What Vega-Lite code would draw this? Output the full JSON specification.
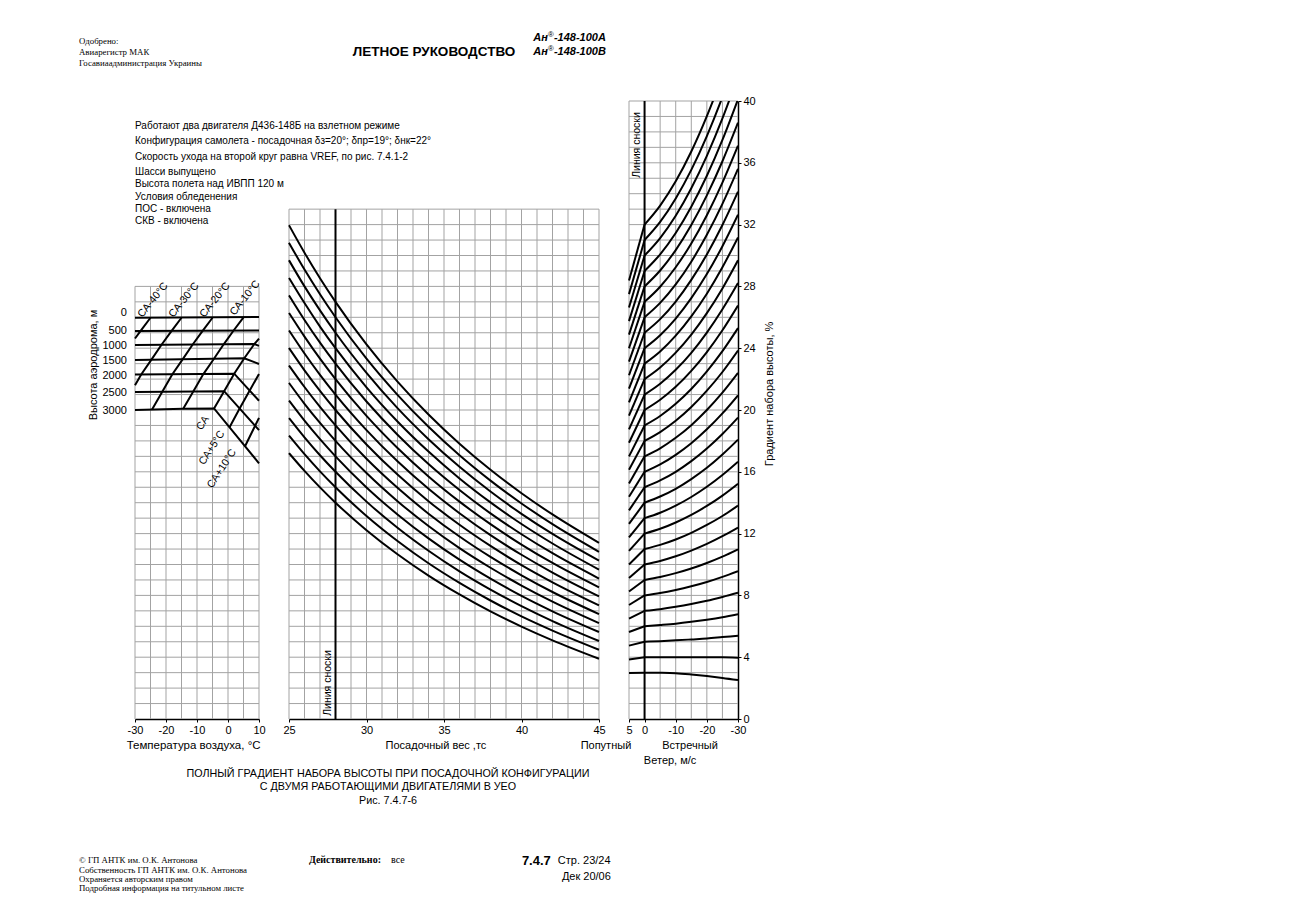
{
"$schema": "https://vega.github.io/schema/vega-lite/v6.json",
"background": "white",
"padding": {"left": 79, "top": 30, "right": 5, "bottom": 5},
"spacing": 30,
"bounds": "flush",
"config": {
  "view": {"stroke": null},
  "font": "Liberation Sans",
  "axis": {"domainColor": "black", "domainWidth": 1.5, "tickColor": "black", "tickSize": 3, "tickWidth": 1, "labelFont": "Liberation Sans", "labelFontSize": 11, "labelColor": "black", "labelPadding": 2, "labelFlush": false, "labelOverlap": false, "titleFont": "Liberation Sans", "titleFontSize": 11, "titleFontWeight": "normal", "titleColor": "black", "grid": false},
  "text": {"color": "black"}
},
"datasets": {
  "gLv": [{"t":-30,"g":0,"g2":28},{"t":-25,"g":0,"g2":28},{"t":-20,"g":0,"g2":28},{"t":-15,"g":0,"g2":28},{"t":-10,"g":0,"g2":28},{"t":-5,"g":0,"g2":28},{"t":0,"g":0,"g2":28},{"t":5,"g":0,"g2":28},{"t":10,"g":0,"g2":28}],
  "gLh": [{"g":1,"t":-30,"t2":10},{"g":2,"t":-30,"t2":10},{"g":3,"t":-30,"t2":10},{"g":4,"t":-30,"t2":10},{"g":5,"t":-30,"t2":10},{"g":6,"t":-30,"t2":10},{"g":7,"t":-30,"t2":10},{"g":8,"t":-30,"t2":10},{"g":9,"t":-30,"t2":10},{"g":10,"t":-30,"t2":10},{"g":11,"t":-30,"t2":10},{"g":12,"t":-30,"t2":10},{"g":13,"t":-30,"t2":10},{"g":14,"t":-30,"t2":10},{"g":15,"t":-30,"t2":10},{"g":16,"t":-30,"t2":10},{"g":17,"t":-30,"t2":10},{"g":18,"t":-30,"t2":10},{"g":19,"t":-30,"t2":10},{"g":20,"t":-30,"t2":10},{"g":21,"t":-30,"t2":10},{"g":22,"t":-30,"t2":10},{"g":23,"t":-30,"t2":10},{"g":24,"t":-30,"t2":10},{"g":25,"t":-30,"t2":10},{"g":26,"t":-30,"t2":10},{"g":27,"t":-30,"t2":10},{"g":28,"t":-30,"t2":10}],
  "gMv": [{"t":25,"g":0,"g2":33},{"t":26,"g":0,"g2":33},{"t":27,"g":0,"g2":33},{"t":29,"g":0,"g2":33},{"t":30,"g":0,"g2":33},{"t":31,"g":0,"g2":33},{"t":32,"g":0,"g2":33},{"t":33,"g":0,"g2":33},{"t":34,"g":0,"g2":33},{"t":35,"g":0,"g2":33},{"t":36,"g":0,"g2":33},{"t":37,"g":0,"g2":33},{"t":38,"g":0,"g2":33},{"t":39,"g":0,"g2":33},{"t":40,"g":0,"g2":33},{"t":41,"g":0,"g2":33},{"t":42,"g":0,"g2":33},{"t":43,"g":0,"g2":33},{"t":44,"g":0,"g2":33},{"t":45,"g":0,"g2":33}],
  "gMh": [{"g":1,"t":25,"t2":45},{"g":2,"t":25,"t2":45},{"g":3,"t":25,"t2":45},{"g":4,"t":25,"t2":45},{"g":5,"t":25,"t2":45},{"g":6,"t":25,"t2":45},{"g":7,"t":25,"t2":45},{"g":8,"t":25,"t2":45},{"g":9,"t":25,"t2":45},{"g":10,"t":25,"t2":45},{"g":11,"t":25,"t2":45},{"g":12,"t":25,"t2":45},{"g":13,"t":25,"t2":45},{"g":14,"t":25,"t2":45},{"g":15,"t":25,"t2":45},{"g":16,"t":25,"t2":45},{"g":17,"t":25,"t2":45},{"g":18,"t":25,"t2":45},{"g":19,"t":25,"t2":45},{"g":20,"t":25,"t2":45},{"g":21,"t":25,"t2":45},{"g":22,"t":25,"t2":45},{"g":23,"t":25,"t2":45},{"g":24,"t":25,"t2":45},{"g":25,"t":25,"t2":45},{"g":26,"t":25,"t2":45},{"g":27,"t":25,"t2":45},{"g":28,"t":25,"t2":45},{"g":29,"t":25,"t2":45},{"g":30,"t":25,"t2":45},{"g":31,"t":25,"t2":45},{"g":32,"t":25,"t2":45},{"g":33,"t":25,"t2":45}],
  "gRv": [{"t":5,"g":0,"g2":40},{"t":-5,"g":0,"g2":40},{"t":-10,"g":0,"g2":40},{"t":-15,"g":0,"g2":40},{"t":-20,"g":0,"g2":40},{"t":-25,"g":0,"g2":40}],
  "gRh": [{"g":1,"t":5,"t2":-30},{"g":2,"t":5,"t2":-30},{"g":3,"t":5,"t2":-30},{"g":4,"t":5,"t2":-30},{"g":5,"t":5,"t2":-30},{"g":6,"t":5,"t2":-30},{"g":7,"t":5,"t2":-30},{"g":8,"t":5,"t2":-30},{"g":9,"t":5,"t2":-30},{"g":10,"t":5,"t2":-30},{"g":11,"t":5,"t2":-30},{"g":12,"t":5,"t2":-30},{"g":13,"t":5,"t2":-30},{"g":14,"t":5,"t2":-30},{"g":15,"t":5,"t2":-30},{"g":16,"t":5,"t2":-30},{"g":17,"t":5,"t2":-30},{"g":18,"t":5,"t2":-30},{"g":19,"t":5,"t2":-30},{"g":20,"t":5,"t2":-30},{"g":21,"t":5,"t2":-30},{"g":22,"t":5,"t2":-30},{"g":23,"t":5,"t2":-30},{"g":24,"t":5,"t2":-30},{"g":25,"t":5,"t2":-30},{"g":26,"t":5,"t2":-30},{"g":27,"t":5,"t2":-30},{"g":28,"t":5,"t2":-30},{"g":29,"t":5,"t2":-30},{"g":30,"t":5,"t2":-30},{"g":31,"t":5,"t2":-30},{"g":32,"t":5,"t2":-30},{"g":33,"t":5,"t2":-30},{"g":34,"t":5,"t2":-30},{"g":35,"t":5,"t2":-30},{"g":36,"t":5,"t2":-30},{"g":37,"t":5,"t2":-30},{"g":38,"t":5,"t2":-30},{"g":39,"t":5,"t2":-30},{"g":40,"t":5,"t2":-30}],
  "L": [
    {"id":"h0","t":-30,"g":25.97},{"id":"h0","t":10,"g":26.02},
    {"id":"h500","t":-30,"g":25.11},{"id":"h500","t":10,"g":25.15},
    {"id":"h1000","t":-30,"g":24.21},{"id":"h1000","t":8.5,"g":24.27},{"id":"h1000","t":10,"g":24.15},
    {"id":"h1500","t":-30,"g":23.24},{"id":"h1500","t":5.25,"g":23.35},{"id":"h1500","t":10,"g":22.98},
    {"id":"h2000","t":-30,"g":22.30},{"id":"h2000","t":2,"g":22.35},{"id":"h2000","t":10,"g":20.6},
    {"id":"h2500","t":-30,"g":21.17},{"id":"h2500","t":-1.25,"g":21.22},{"id":"h2500","t":10,"g":18.7},
    {"id":"h3000","t":-30,"g":20.0},{"id":"h3000","t":-14.5,"g":20.08},{"id":"h3000","t":-4.5,"g":20.1},{"id":"h3000","t":10,"g":16.55},
    {"id":"isa","t":-4.5,"g":20.1},{"id":"isa","t":-1.25,"g":21.22},{"id":"isa","t":2,"g":22.35},{"id":"isa","t":5.25,"g":23.35},{"id":"isa","t":8.5,"g":24.27},{"id":"isa","t":10,"g":24.62},
    {"id":"isa5","t":0.5,"g":18.88},{"id":"isa5","t":3.75,"g":20.1},{"id":"isa5","t":7,"g":21.26},{"id":"isa5","t":10,"g":22.33},
    {"id":"isa10","t":5.5,"g":17.65},{"id":"isa10","t":8.75,"g":18.98},{"id":"isa10","t":10,"g":19.49},
    {"id":"m40","t":-30,"g":24.63},{"id":"m40","t":-28.25,"g":25.11},{"id":"m40","t":-25,"g":25.97},
    {"id":"m30","t":-30,"g":21.6},{"id":"m30","t":-28,"g":22.3},{"id":"m30","t":-24.75,"g":23.24},{"id":"m30","t":-21.5,"g":24.21},{"id":"m30","t":-18.25,"g":25.11},{"id":"m30","t":-15,"g":25.97},
    {"id":"m20","t":-24.5,"g":20.03},{"id":"m20","t":-21.25,"g":21.17},{"id":"m20","t":-18,"g":22.3},{"id":"m20","t":-14.75,"g":23.24},{"id":"m20","t":-11.5,"g":24.21},{"id":"m20","t":-8.25,"g":25.11},{"id":"m20","t":-5,"g":25.97},
    {"id":"m10","t":-14.5,"g":20.07},{"id":"m10","t":-11.25,"g":21.18},{"id":"m10","t":-8,"g":22.31},{"id":"m10","t":-4.75,"g":23.25},{"id":"m10","t":-1.5,"g":24.22},{"id":"m10","t":1.75,"g":25.13},{"id":"m10","t":5,"g":26.0}
  ],
  "M": [
    {"id":14,"t":25,"g":17.21},{"id":14,"t":26,"g":16.06},{"id":14,"t":27,"g":14.99},{"id":14,"t":28,"g":14},{"id":14,"t":30,"g":12.22},{"id":14,"t":32,"g":10.66},{"id":14,"t":34,"g":9.28},{"id":14,"t":36,"g":8.06},{"id":14,"t":38,"g":6.96},{"id":14,"t":40,"g":5.98},{"id":14,"t":42,"g":5.09},{"id":14,"t":45,"g":3.9},
    {"id":15,"t":25,"g":18.34},{"id":15,"t":26,"g":17.14},{"id":15,"t":27,"g":16.03},{"id":15,"t":28,"g":15},{"id":15,"t":30,"g":13.14},{"id":15,"t":32,"g":11.52},{"id":15,"t":34,"g":10.08},{"id":15,"t":36,"g":8.81},{"id":15,"t":38,"g":7.67},{"id":15,"t":40,"g":6.64},{"id":15,"t":42,"g":5.72},{"id":15,"t":45,"g":4.48},
    {"id":16,"t":25,"g":19.48},{"id":16,"t":26,"g":18.23},{"id":16,"t":27,"g":17.07},{"id":16,"t":28,"g":16},{"id":16,"t":30,"g":14.07},{"id":16,"t":32,"g":12.38},{"id":16,"t":34,"g":10.89},{"id":16,"t":36,"g":9.56},{"id":16,"t":38,"g":8.38},{"id":16,"t":40,"g":7.31},{"id":16,"t":42,"g":6.34},{"id":16,"t":45,"g":5.05},
    {"id":17,"t":25,"g":20.61},{"id":17,"t":26,"g":19.31},{"id":17,"t":27,"g":18.11},{"id":17,"t":28,"g":17},{"id":17,"t":30,"g":14.99},{"id":17,"t":32,"g":13.24},{"id":17,"t":34,"g":11.69},{"id":17,"t":36,"g":10.31},{"id":17,"t":38,"g":9.08},{"id":17,"t":40,"g":7.97},{"id":17,"t":42,"g":6.97},{"id":17,"t":45,"g":5.63},
    {"id":18,"t":25,"g":21.75},{"id":18,"t":26,"g":20.40},{"id":18,"t":27,"g":19.16},{"id":18,"t":28,"g":18},{"id":18,"t":30,"g":15.92},{"id":18,"t":32,"g":14.10},{"id":18,"t":34,"g":12.49},{"id":18,"t":36,"g":11.06},{"id":18,"t":38,"g":9.79},{"id":18,"t":40,"g":8.64},{"id":18,"t":42,"g":7.60},{"id":18,"t":45,"g":6.21},
    {"id":19,"t":25,"g":22.88},{"id":19,"t":26,"g":21.49},{"id":19,"t":27,"g":20.20},{"id":19,"t":28,"g":19},{"id":19,"t":30,"g":16.84},{"id":19,"t":32,"g":14.96},{"id":19,"t":34,"g":13.29},{"id":19,"t":36,"g":11.81},{"id":19,"t":38,"g":10.49},{"id":19,"t":40,"g":9.30},{"id":19,"t":42,"g":8.22},{"id":19,"t":45,"g":6.79},
    {"id":20,"t":25,"g":24.01},{"id":20,"t":26,"g":22.57},{"id":20,"t":27,"g":21.24},{"id":20,"t":28,"g":20},{"id":20,"t":30,"g":17.77},{"id":20,"t":32,"g":15.82},{"id":20,"t":34,"g":14.10},{"id":20,"t":36,"g":12.57},{"id":20,"t":38,"g":11.20},{"id":20,"t":40,"g":9.96},{"id":20,"t":42,"g":8.85},{"id":20,"t":45,"g":7.36},
    {"id":21,"t":25,"g":25.15},{"id":21,"t":26,"g":23.66},{"id":21,"t":27,"g":22.28},{"id":21,"t":28,"g":21},{"id":21,"t":30,"g":18.70},{"id":21,"t":32,"g":16.68},{"id":21,"t":34,"g":14.90},{"id":21,"t":36,"g":13.32},{"id":21,"t":38,"g":11.90},{"id":21,"t":40,"g":10.63},{"id":21,"t":42,"g":9.48},{"id":21,"t":45,"g":7.94},
    {"id":22,"t":25,"g":26.28},{"id":22,"t":26,"g":24.75},{"id":22,"t":27,"g":23.32},{"id":22,"t":28,"g":22},{"id":22,"t":30,"g":19.62},{"id":22,"t":32,"g":17.54},{"id":22,"t":34,"g":15.70},{"id":22,"t":36,"g":14.07},{"id":22,"t":38,"g":12.61},{"id":22,"t":40,"g":11.29},{"id":22,"t":42,"g":10.10},{"id":22,"t":45,"g":8.52},
    {"id":23,"t":25,"g":27.42},{"id":23,"t":26,"g":25.83},{"id":23,"t":27,"g":24.36},{"id":23,"t":28,"g":23},{"id":23,"t":30,"g":20.55},{"id":23,"t":32,"g":18.40},{"id":23,"t":34,"g":16.50},{"id":23,"t":36,"g":14.82},{"id":23,"t":38,"g":13.31},{"id":23,"t":40,"g":11.96},{"id":23,"t":42,"g":10.73},{"id":23,"t":45,"g":9.09},
    {"id":24,"t":25,"g":28.55},{"id":24,"t":26,"g":26.92},{"id":24,"t":27,"g":25.40},{"id":24,"t":28,"g":24},{"id":24,"t":30,"g":21.47},{"id":24,"t":32,"g":19.26},{"id":24,"t":34,"g":17.31},{"id":24,"t":36,"g":15.57},{"id":24,"t":38,"g":14.02},{"id":24,"t":40,"g":12.62},{"id":24,"t":42,"g":11.36},{"id":24,"t":45,"g":9.67},
    {"id":25,"t":25,"g":29.69},{"id":25,"t":26,"g":28.00},{"id":25,"t":27,"g":26.45},{"id":25,"t":28,"g":25},{"id":25,"t":30,"g":22.40},{"id":25,"t":32,"g":20.12},{"id":25,"t":34,"g":18.11},{"id":25,"t":36,"g":16.32},{"id":25,"t":38,"g":14.72},{"id":25,"t":40,"g":13.28},{"id":25,"t":42,"g":11.98},{"id":25,"t":45,"g":10.25},
    {"id":26,"t":25,"g":30.82},{"id":26,"t":26,"g":29.09},{"id":26,"t":27,"g":27.49},{"id":26,"t":28,"g":26},{"id":26,"t":30,"g":23.32},{"id":26,"t":32,"g":20.98},{"id":26,"t":34,"g":18.91},{"id":26,"t":36,"g":17.07},{"id":26,"t":38,"g":15.43},{"id":26,"t":40,"g":13.95},{"id":26,"t":42,"g":12.61},{"id":26,"t":45,"g":10.82},
    {"id":27,"t":25,"g":31.96},{"id":27,"t":26,"g":30.18},{"id":27,"t":27,"g":28.53},{"id":27,"t":28,"g":27},{"id":27,"t":30,"g":24.25},{"id":27,"t":32,"g":21.84},{"id":27,"t":34,"g":19.71},{"id":27,"t":36,"g":17.82},{"id":27,"t":38,"g":16.13},{"id":27,"t":40,"g":14.61},{"id":27,"t":42,"g":13.24},{"id":27,"t":45,"g":11.40}
  ],
  "R": [
    {"id":3,"t":5,"g":2.98},{"id":3,"t":0,"g":3},{"id":3,"t":-5,"g":2.99},{"id":3,"t":-10,"g":2.96},{"id":3,"t":-15,"g":2.88},{"id":3,"t":-20,"g":2.78},{"id":3,"t":-25,"g":2.66},{"id":3,"t":-30,"g":2.52},
    {"id":4,"t":5,"g":3.85},{"id":4,"t":0,"g":4},{"id":4,"t":-5,"g":4},{"id":4,"t":-10,"g":4},{"id":4,"t":-15,"g":4},{"id":4,"t":-20,"g":4},{"id":4,"t":-25,"g":3.99},{"id":4,"t":-30,"g":3.97},
    {"id":5,"t":5,"g":4.75},{"id":5,"t":0,"g":5},{"id":5,"t":-5,"g":5.04},{"id":5,"t":-10,"g":5.09},{"id":5,"t":-15,"g":5.15},{"id":5,"t":-20,"g":5.21},{"id":5,"t":-25,"g":5.3},{"id":5,"t":-30,"g":5.39},
    {"id":6,"t":5,"g":5.63},{"id":6,"t":0,"g":6},{"id":6,"t":-5,"g":6.08},{"id":6,"t":-10,"g":6.17},{"id":6,"t":-15,"g":6.29},{"id":6,"t":-20,"g":6.43},{"id":6,"t":-25,"g":6.59},{"id":6,"t":-30,"g":6.78},
    {"id":7,"t":5,"g":6.5},{"id":7,"t":0,"g":7},{"id":7,"t":-5,"g":7.11},{"id":7,"t":-10,"g":7.26},{"id":7,"t":-15,"g":7.44},{"id":7,"t":-20,"g":7.65},{"id":7,"t":-25,"g":7.9},{"id":7,"t":-30,"g":8.17},
    {"id":8,"t":5,"g":7.38},{"id":8,"t":0,"g":8},{"id":8,"t":-5,"g":8.15},{"id":8,"t":-10,"g":8.35},{"id":8,"t":-15,"g":8.59},{"id":8,"t":-20,"g":8.87},{"id":8,"t":-25,"g":9.2},{"id":8,"t":-30,"g":9.57},
    {"id":9,"t":5,"g":8.25},{"id":9,"t":0,"g":9},{"id":9,"t":-5,"g":9.19},{"id":9,"t":-10,"g":9.44},{"id":9,"t":-15,"g":9.74},{"id":9,"t":-20,"g":10.1},{"id":9,"t":-25,"g":10.51},{"id":9,"t":-30,"g":10.98},
    {"id":10,"t":5,"g":9.13},{"id":10,"t":0,"g":10},{"id":10,"t":-5,"g":10.23},{"id":10,"t":-10,"g":10.53},{"id":10,"t":-15,"g":10.9},{"id":10,"t":-20,"g":11.33},{"id":10,"t":-25,"g":11.83},{"id":10,"t":-30,"g":12.39},
    {"id":11,"t":5,"g":10.0},{"id":11,"t":0,"g":11},{"id":11,"t":-5,"g":11.27},{"id":11,"t":-10,"g":11.62},{"id":11,"t":-15,"g":12.05},{"id":11,"t":-20,"g":12.56},{"id":11,"t":-25,"g":13.14},{"id":11,"t":-30,"g":13.81},
    {"id":12,"t":5,"g":10.88},{"id":12,"t":0,"g":12},{"id":12,"t":-5,"g":12.31},{"id":12,"t":-10,"g":12.72},{"id":12,"t":-15,"g":13.21},{"id":12,"t":-20,"g":13.79},{"id":12,"t":-25,"g":14.46},{"id":12,"t":-30,"g":15.23},
    {"id":13,"t":5,"g":11.75},{"id":13,"t":0,"g":13},{"id":13,"t":-5,"g":13.35},{"id":13,"t":-10,"g":13.81},{"id":13,"t":-15,"g":14.37},{"id":13,"t":-20,"g":15.03},{"id":13,"t":-25,"g":15.79},{"id":13,"t":-30,"g":16.65},
    {"id":14,"t":5,"g":12.63},{"id":14,"t":0,"g":14},{"id":14,"t":-5,"g":14.4},{"id":14,"t":-10,"g":14.9},{"id":14,"t":-15,"g":15.53},{"id":14,"t":-20,"g":16.26},{"id":14,"t":-25,"g":17.12},{"id":14,"t":-30,"g":18.08},
    {"id":15,"t":5,"g":13.5},{"id":15,"t":0,"g":15},{"id":15,"t":-5,"g":15.44},{"id":15,"t":-10,"g":16.0},{"id":15,"t":-15,"g":16.69},{"id":15,"t":-20,"g":17.51},{"id":15,"t":-25,"g":18.45},{"id":15,"t":-30,"g":19.51},
    {"id":16,"t":5,"g":14.38},{"id":16,"t":0,"g":16},{"id":16,"t":-5,"g":16.48},{"id":16,"t":-10,"g":17.1},{"id":16,"t":-15,"g":17.85},{"id":16,"t":-20,"g":18.75},{"id":16,"t":-25,"g":19.78},{"id":16,"t":-30,"g":20.95},
    {"id":17,"t":5,"g":15.25},{"id":17,"t":0,"g":17},{"id":17,"t":-5,"g":17.52},{"id":17,"t":-10,"g":18.2},{"id":17,"t":-15,"g":19.02},{"id":17,"t":-20,"g":20.0},{"id":17,"t":-25,"g":21.12},{"id":17,"t":-30,"g":22.4},
    {"id":18,"t":5,"g":16.13},{"id":18,"t":0,"g":18},{"id":18,"t":-5,"g":18.57},{"id":18,"t":-10,"g":19.3},{"id":18,"t":-15,"g":20.19},{"id":18,"t":-20,"g":21.25},{"id":18,"t":-25,"g":22.46},{"id":18,"t":-30,"g":23.85},
    {"id":19,"t":5,"g":17.0},{"id":19,"t":0,"g":19},{"id":19,"t":-5,"g":19.61},{"id":19,"t":-10,"g":20.4},{"id":19,"t":-15,"g":21.36},{"id":19,"t":-20,"g":22.5},{"id":19,"t":-25,"g":23.81},{"id":19,"t":-30,"g":25.3},
    {"id":20,"t":5,"g":17.88},{"id":20,"t":0,"g":20},{"id":20,"t":-5,"g":20.66},{"id":20,"t":-10,"g":21.5},{"id":20,"t":-15,"g":22.53},{"id":20,"t":-20,"g":23.75},{"id":20,"t":-25,"g":25.16},{"id":20,"t":-30,"g":26.76},
    {"id":21,"t":5,"g":18.75},{"id":21,"t":0,"g":21},{"id":21,"t":-5,"g":21.7},{"id":21,"t":-10,"g":22.6},{"id":21,"t":-15,"g":23.7},{"id":21,"t":-20,"g":25.01},{"id":21,"t":-25,"g":26.52},{"id":21,"t":-30,"g":28.22},
    {"id":22,"t":5,"g":19.63},{"id":22,"t":0,"g":22},{"id":22,"t":-5,"g":22.75},{"id":22,"t":-10,"g":23.71},{"id":22,"t":-15,"g":24.88},{"id":22,"t":-20,"g":26.27},{"id":22,"t":-25,"g":27.87},{"id":22,"t":-30,"g":29.69},
    {"id":23,"t":5,"g":20.5},{"id":23,"t":0,"g":23},{"id":23,"t":-5,"g":23.79},{"id":23,"t":-10,"g":24.81},{"id":23,"t":-15,"g":26.06},{"id":23,"t":-20,"g":27.53},{"id":23,"t":-25,"g":29.24},{"id":23,"t":-30,"g":31.17},
    {"id":24,"t":5,"g":21.38},{"id":24,"t":0,"g":24},{"id":24,"t":-5,"g":24.84},{"id":24,"t":-10,"g":25.92},{"id":24,"t":-15,"g":27.24},{"id":24,"t":-20,"g":28.8},{"id":24,"t":-25,"g":30.6},{"id":24,"t":-30,"g":32.64},
    {"id":25,"t":5,"g":22.25},{"id":25,"t":0,"g":25},{"id":25,"t":-5,"g":25.88},{"id":25,"t":-10,"g":27.02},{"id":25,"t":-15,"g":28.42},{"id":25,"t":-20,"g":30.07},{"id":25,"t":-25,"g":31.97},{"id":25,"t":-30,"g":34.13},
    {"id":26,"t":5,"g":23.13},{"id":26,"t":0,"g":26},{"id":26,"t":-5,"g":26.93},{"id":26,"t":-10,"g":28.13},{"id":26,"t":-15,"g":29.6},{"id":26,"t":-20,"g":31.34},{"id":26,"t":-25,"g":33.34},{"id":26,"t":-30,"g":35.61},
    {"id":27,"t":5,"g":24.0},{"id":27,"t":0,"g":27},{"id":27,"t":-5,"g":27.98},{"id":27,"t":-10,"g":29.24},{"id":27,"t":-15,"g":30.78},{"id":27,"t":-20,"g":32.61},{"id":27,"t":-25,"g":34.72},{"id":27,"t":-30,"g":37.11},
    {"id":28,"t":5,"g":24.88},{"id":28,"t":0,"g":28},{"id":28,"t":-5,"g":29.03},{"id":28,"t":-10,"g":30.35},{"id":28,"t":-15,"g":31.97},{"id":28,"t":-20,"g":33.89},{"id":28,"t":-25,"g":36.1},{"id":28,"t":-30,"g":38.6},
    {"id":29,"t":5,"g":25.75},{"id":29,"t":0,"g":29},{"id":29,"t":-5,"g":30.08},{"id":29,"t":-10,"g":31.46},{"id":29,"t":-15,"g":33.16},{"id":29,"t":-20,"g":35.16},{"id":29,"t":-25,"g":37.48},{"id":29,"t":-30,"g":40.11},
    {"id":30,"t":5,"g":26.63},{"id":30,"t":0,"g":30},{"id":30,"t":-5,"g":31.13},{"id":30,"t":-10,"g":32.57},{"id":30,"t":-15,"g":34.35},{"id":30,"t":-20,"g":36.45},{"id":30,"t":-25,"g":38.87},{"id":30,"t":-30,"g":41.61},
    {"id":31,"t":5,"g":27.5},{"id":31,"t":0,"g":31},{"id":31,"t":-5,"g":32.17},{"id":31,"t":-10,"g":33.69},{"id":31,"t":-15,"g":35.54},{"id":31,"t":-20,"g":37.73},{"id":31,"t":-25,"g":40.26},{"id":31,"t":-30,"g":43.13},
    {"id":32,"t":5,"g":28.38},{"id":32,"t":0,"g":32},{"id":32,"t":-5,"g":33.23},{"id":32,"t":-10,"g":34.8},{"id":32,"t":-15,"g":36.73},{"id":32,"t":-20,"g":39.02},{"id":32,"t":-25,"g":41.65},{"id":32,"t":-30,"g":44.64}
  ]
},
"hconcat": [
  {
    "width": 124, "height": 618,
    "encoding": {
      "x": {"field": "t", "type": "quantitative", "scale": {"domain": [-30, 10], "nice": false, "zero": false}, "axis": {"values": [-30, -20, -10, 0, 10], "labelExpr": "'' + datum.value", "title": null}},
      "y": {"field": "g", "type": "quantitative", "scale": {"domain": [0, 40], "nice": false, "zero": false}, "axis": null}
    },
    "layer": [
      {"data": {"name": "gLv"}, "mark": {"type": "rule", "color": "#a3a3a3", "strokeWidth": 1}, "encoding": {"y2": {"field": "g2"}}},
      {"data": {"name": "gLh"}, "mark": {"type": "rule", "color": "#a3a3a3", "strokeWidth": 1}, "encoding": {"x2": {"field": "t2"}}},
      {"data": {"name": "L"}, "mark": {"type": "line", "color": "black", "strokeWidth": 2}, "encoding": {"detail": {"field": "id"}}},
      {"data": {"values": [{"t": -32.6, "g": 26.25, "s": "0"}, {"t": -32.6, "g": 25.13, "s": "500"}, {"t": -32.6, "g": 24.14, "s": "1000"}, {"t": -32.6, "g": 23.17, "s": "1500"}, {"t": -32.6, "g": 22.2, "s": "2000"}, {"t": -32.6, "g": 21.08, "s": "2500"}, {"t": -32.6, "g": 19.94, "s": "3000"}]},
       "mark": {"type": "text", "align": "right", "baseline": "middle", "fontSize": 11}, "encoding": {"text": {"field": "s"}}},
      {"data": {"values": [{"t": -43.2, "g": 22.91, "s": "Высота аэродрома, м"}]},
       "mark": {"type": "text", "align": "center", "baseline": "middle", "fontSize": 11, "angle": 270}, "encoding": {"text": {"field": "s"}}},
      {"data": {"values": [{"t": -11.1, "g": -1.75, "s": "Температура воздуха, °С"}]},
       "mark": {"type": "text", "align": "center", "baseline": "middle", "fontSize": 11.5}, "encoding": {"text": {"field": "s"}}},
      {"data": {"values": [{"t": -24.2, "g": 27.12, "s": "СА-40°С"}, {"t": -14.2, "g": 27.12, "s": "СА-30°С"}, {"t": -4.2, "g": 27.12, "s": "СА-20°С"}, {"t": 5.5, "g": 27.25, "s": "СА-10°С"}]},
       "mark": {"type": "text", "align": "center", "baseline": "middle", "fontSize": 10.5, "angle": 309}, "encoding": {"text": {"field": "s"}}},
      {"data": {"values": [{"t": -8.1, "g": 19.16, "s": "СА"}, {"t": -5.2, "g": 17.55, "s": "СА+5°С"}, {"t": -2.0, "g": 16.2, "s": "СА+10°С"}]},
       "mark": {"type": "text", "align": "center", "baseline": "middle", "fontSize": 10.5, "angle": 303}, "encoding": {"text": {"field": "s"}}},
      {"data": {"values": [
         {"t": -30, "g": 38.38, "s": "Работают два двигателя Д436-148Б на взлетном режиме"},
         {"t": -30, "g": 37.41, "s": "Конфигурация самолета - посадочная δз=20°; δпр=19°; δнк=22°"},
         {"t": -30, "g": 36.38, "s": "Скорость ухода на второй круг равна VREF, по рис. 7.4.1-2"},
         {"t": -30, "g": 35.40, "s": "Шасси выпущено"},
         {"t": -30, "g": 34.63, "s": "Высота полета над ИВПП 120 м"},
         {"t": -30, "g": 33.79, "s": "Условия обледенения"},
         {"t": -30, "g": 33.01, "s": "ПОС - включена"},
         {"t": -30, "g": 32.23, "s": "СКВ - включена"}]},
       "mark": {"type": "text", "align": "left", "baseline": "middle", "fontSize": 10}, "encoding": {"text": {"field": "s"}}},
      {"data": {"values": [
         {"t": 51.6, "g": -3.56, "s": "ПОЛНЫЙ ГРАДИЕНТ НАБОРА ВЫСОТЫ ПРИ ПОСАДОЧНОЙ КОНФИГУРАЦИИ"},
         {"t": 51.6, "g": -4.40, "s": "С ДВУМЯ РАБОТАЮЩИМИ ДВИГАТЕЛЯМИ В УЕО"},
         {"t": 51.6, "g": -5.31, "s": "Рис. 7.4.7-6"}]},
       "mark": {"type": "text", "align": "center", "baseline": "middle", "fontSize": 10.75}, "encoding": {"text": {"field": "s"}}},
      {"data": {"values": [
         {"t": -48.06, "g": 43.88, "s": "Одобрено:"},
         {"t": -48.06, "g": 43.17, "s": "Авиарегистр МАК"},
         {"t": -48.06, "g": 42.46, "s": "Госавиаадминистрация Украины"},
         {"t": -48.06, "g": -9.13, "s": "© ГП АНТК им. О.К. Антонова"},
         {"t": -48.06, "g": -9.77, "s": "Собственность ГП АНТК им. О.К. Антонова"},
         {"t": -48.06, "g": -10.36, "s": "Охраняется авторским правом"},
         {"t": -48.06, "g": -10.94, "s": "Подробная информация на титульном листе"}]},
       "mark": {"type": "text", "align": "left", "baseline": "middle", "fontSize": 8.8, "font": "Liberation Serif"}, "encoding": {"text": {"field": "s"}}},
      {"data": {"values": [{"t": 26.1, "g": -9.13, "s": "Действительно:"}]},
       "mark": {"type": "text", "align": "left", "baseline": "middle", "fontSize": 10, "font": "Liberation Serif", "fontWeight": "bold"}, "encoding": {"text": {"field": "s"}}},
      {"data": {"values": [{"t": 52.6, "g": -9.13, "s": "все"}]},
       "mark": {"type": "text", "align": "left", "baseline": "middle", "fontSize": 10, "font": "Liberation Serif"}, "encoding": {"text": {"field": "s"}}},
      {"data": {"values": [{"t": 66.45, "g": 43.17, "s": "ЛЕТНОЕ РУКОВОДСТВО"}]},
       "mark": {"type": "text", "align": "center", "baseline": "middle", "fontSize": 13.5, "fontWeight": "bold"}, "encoding": {"text": {"field": "s"}}},
      {"data": {"values": [{"t": 121.9, "g": 44.08, "s": "-148-100А"}, {"t": 121.9, "g": 43.17, "s": "-148-100В"}]},
       "mark": {"type": "text", "align": "right", "baseline": "middle", "fontSize": 11, "fontWeight": "bold", "fontStyle": "italic"}, "encoding": {"text": {"field": "s"}}},
      {"data": {"values": [{"t": 104.1, "g": 44.3, "s": "®"}, {"t": 104.1, "g": 43.39, "s": "®"}]},
       "mark": {"type": "text", "align": "center", "baseline": "middle", "fontSize": 8, "fontStyle": "italic"}, "encoding": {"text": {"field": "s"}}},
      {"data": {"values": [{"t": 103.2, "g": 44.08, "s": "Ан"}, {"t": 103.2, "g": 43.17, "s": "Ан"}]},
       "mark": {"type": "text", "align": "right", "baseline": "middle", "fontSize": 11, "fontWeight": "bold", "fontStyle": "italic"}, "encoding": {"text": {"field": "s"}}},
      {"data": {"values": [{"t": 94.8, "g": -9.19, "s": "7.4.7"}]},
       "mark": {"type": "text", "align": "left", "baseline": "middle", "fontSize": 13, "fontWeight": "bold"}, "encoding": {"text": {"field": "s"}}},
      {"data": {"values": [{"t": 106.4, "g": -9.19, "s": "Стр. 23/24"}]},
       "mark": {"type": "text", "align": "left", "baseline": "middle", "fontSize": 11}, "encoding": {"text": {"field": "s"}}},
      {"data": {"values": [{"t": 123.5, "g": -10.23, "s": "Дек 20/06"}]},
       "mark": {"type": "text", "align": "right", "baseline": "middle", "fontSize": 11}, "encoding": {"text": {"field": "s"}}}
    ]
  },
  {
    "width": 310, "height": 618,
    "encoding": {
      "x": {"field": "t", "type": "quantitative", "scale": {"domain": [25, 45], "nice": false, "zero": false}, "axis": {"values": [25, 30, 35, 40, 45], "title": null}},
      "y": {"field": "g", "type": "quantitative", "scale": {"domain": [0, 40], "nice": false, "zero": false}, "axis": null}
    },
    "layer": [
      {"data": {"name": "gMv"}, "mark": {"type": "rule", "color": "#a3a3a3", "strokeWidth": 1}, "encoding": {"y2": {"field": "g2"}}},
      {"data": {"name": "gMh"}, "mark": {"type": "rule", "color": "#a3a3a3", "strokeWidth": 1}, "encoding": {"x2": {"field": "t2"}}},
      {"data": {"values": [{"t": 28, "g": 0, "g2": 33}]}, "mark": {"type": "rule", "color": "black", "strokeWidth": 2}, "encoding": {"y2": {"field": "g2"}}},
      {"data": {"name": "M"}, "mark": {"type": "line", "color": "black", "strokeWidth": 2, "interpolate": "monotone"}, "encoding": {"detail": {"field": "id"}}},
      {"data": {"values": [{"t": 27.52, "g": 2.33, "s": "Линия сноски"}]},
       "mark": {"type": "text", "align": "center", "baseline": "middle", "fontSize": 10.5, "angle": 270}, "encoding": {"text": {"field": "s"}}},
      {"data": {"values": [{"t": 34.48, "g": -1.75, "s": "Посадочный вес ,тс"}]},
       "mark": {"type": "text", "align": "center", "baseline": "middle", "fontSize": 11}, "encoding": {"text": {"field": "s"}}}
    ]
  },
  {
    "width": 109, "height": 618,
    "encoding": {
      "x": {"field": "t", "type": "quantitative", "scale": {"domain": [-30, 5], "reverse": true, "nice": false, "zero": false}, "axis": {"values": [5, 0, -10, -20, -30], "labelExpr": "'' + datum.value", "title": null}},
      "y": {"field": "g", "type": "quantitative", "scale": {"domain": [0, 40], "nice": false, "zero": false}, "axis": {"orient": "right", "values": [0, 4, 8, 12, 16, 20, 24, 28, 32, 36, 40], "title": null}}
    },
    "layer": [
      {"data": {"name": "gRv"}, "mark": {"type": "rule", "color": "#a3a3a3", "strokeWidth": 1}, "encoding": {"y2": {"field": "g2"}}},
      {"data": {"name": "gRh"}, "mark": {"type": "rule", "color": "#a3a3a3", "strokeWidth": 1}, "encoding": {"x2": {"field": "t2"}}},
      {"data": {"values": [{"t": 0, "g": 0, "g2": 40}]}, "mark": {"type": "rule", "color": "black", "strokeWidth": 2}, "encoding": {"y2": {"field": "g2"}}},
      {"data": {"name": "R"}, "transform": [{"filter": "datum.t >= 0"}], "mark": {"type": "line", "color": "black", "strokeWidth": 2}, "encoding": {"detail": {"field": "id"}}},
      {"data": {"name": "R"}, "transform": [{"filter": "datum.t <= 0"}], "mark": {"type": "line", "color": "black", "strokeWidth": 2, "interpolate": "monotone", "clip": true}, "encoding": {"detail": {"field": "id"}}},
      {"data": {"values": [{"t": 2.43, "g": 37.15, "s": "Линия сноски"}]},
       "mark": {"type": "text", "align": "center", "baseline": "middle", "fontSize": 10.5, "angle": 270}, "encoding": {"text": {"field": "s"}}},
      {"data": {"values": [{"t": -40.3, "g": 21.04, "s": "Градиент набора высоты, %"}]},
       "mark": {"type": "text", "align": "center", "baseline": "middle", "fontSize": 11, "angle": 270}, "encoding": {"text": {"field": "s"}}},
      {"data": {"values": [{"t": 12.4, "g": -1.75, "s": "Попутный"}, {"t": -14.6, "g": -1.75, "s": "Встречный"}, {"t": -8.2, "g": -2.72, "s": "Ветер, м/с"}]},
       "mark": {"type": "text", "align": "center", "baseline": "middle", "fontSize": 11}, "encoding": {"text": {"field": "s"}}}
    ]
  }
]
}
